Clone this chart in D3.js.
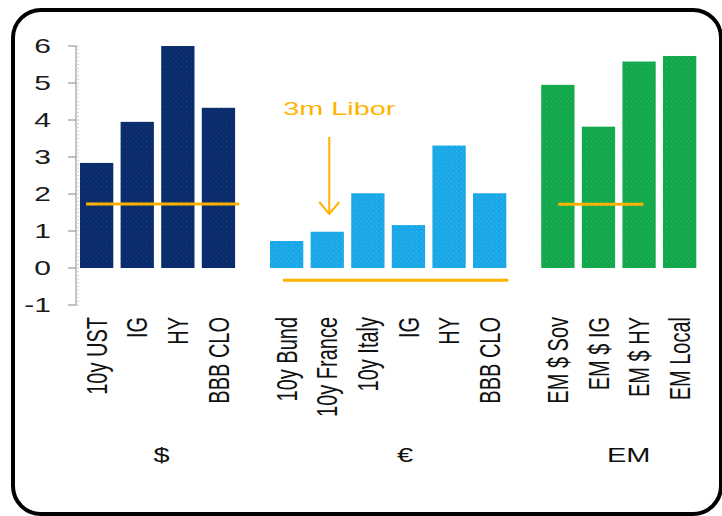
<!DOCTYPE html>
<html lang="en">
<head>
    <meta charset="UTF-8">
    <title>Yields vs 3m Libor</title>
    <script src="https://d3js.org/d3.v7.min.js"></script>
    <style>
        body {
            margin: 0;
            background-color: #ffffff;
        }
        svg {
            display: block;
            font-family: "Liberation Sans", Arial, sans-serif;
        }
    </style>
</head>
<body>
    <svg id="chart" width="722" height="516"></svg>

    <script>
        // data
        const groups = ["$", "€", "EM"];
        const usdCats = ["10y UST", "IG", "HY", "BBB CLO"];
        const usdVals = [2.84, 3.95, 6.0, 4.33];
        const eurCats = ["10y Bund", "10y France", "10y Italy", "IG", "HY", "BBB CLO"];
        const eurVals = [0.73, 0.98, 2.02, 1.16, 3.31, 2.02];
        const emCats = ["EM $ Sov", "EM $ IG", "EM $ HY", "EM Local"];
        const emVals = [4.95, 3.82, 5.58, 5.73];
        const liborVals = [1.73, -0.33, 1.72];
        const yTicks = [-1, 0, 1, 2, 3, 4, 5, 6];

        const colors = ["#0b2c6c", "#1aa7e8", "#12a84b"];
        const dotColors = ["#1d4f86", "#5cc6f2", "#3cc46e"];
        const liborColor = "#ffb300";

        const svg = d3.select("#chart");
        const gap = 0.68;      // extra space between groups, in bar slots
        const barW = 0.82;     // bar width, in bar slots

        // flatten into one list of bars with a slot position
        const bars = [];
        [[usdCats, usdVals], [eurCats, eurVals], [emCats, emVals]].forEach(([cats, vals], g) => {
            cats.forEach((c, i) => {
                bars.push({ cat: c, value: vals[i], group: g, pos: bars.length + g * gap });
            });
        });

        const x = d3.scaleLinear().domain([0, 1]).range([80, 120.6]);
        const y = d3.scaleLinear().domain([-1, 6]).range([305, 46]);

        // frame
        svg.append("rect")
            .attr("x", 13).attr("y", 10)
            .attr("width", 708).attr("height", 504)
            .attr("rx", 28).attr("ry", 28)
            .attr("fill", "none")
            .attr("stroke", "#000")
            .attr("stroke-width", 4);

        // stipple patterns for the bars
        const defs = svg.append("defs");
        colors.forEach((c, i) => {
            const p = defs.append("pattern")
                .attr("id", "dots" + i)
                .attr("width", 5).attr("height", 5)
                .attr("patternUnits", "userSpaceOnUse");
            p.append("rect").attr("width", 5).attr("height", 5).attr("fill", c);
            p.append("rect").attr("x", 1).attr("y", 1).attr("width", 1).attr("height", 1)
                .attr("fill", dotColors[i]).attr("opacity", 0.6);
            p.append("rect").attr("x", 3).attr("y", 3).attr("width", 1).attr("height", 1)
                .attr("fill", dotColors[i]).attr("opacity", 0.4);
        });

        // y axis
        const axis = svg.append("g");
        axis.append("line")
            .attr("x1", 76).attr("x2", 76)
            .attr("y1", y(6)).attr("y2", y(-1))
            .attr("stroke", "#9a9a9a").attr("stroke-width", 1.2);
        axis.selectAll("line.minor")
            .data(d3.range(-1, 6.001, 0.1))
            .enter().append("line")
            .attr("class", "minor")
            .attr("x1", 76).attr("x2", 79)
            .attr("y1", d => y(d)).attr("y2", d => y(d))
            .attr("stroke", "#d0d0d0").attr("stroke-width", 1);
        axis.selectAll("line.major")
            .data(yTicks)
            .enter().append("line")
            .attr("class", "major")
            .attr("x1", 68).attr("x2", 76)
            .attr("y1", d => y(d)).attr("y2", d => y(d))
            .attr("stroke", "#9a9a9a").attr("stroke-width", 1.2);
        axis.selectAll("text")
            .data(yTicks)
            .enter().append("text")
            .attr("transform", d => `translate(51,${y(d)}) scale(1.5,1)`)
            .attr("dy", "0.35em")
            .attr("text-anchor", "end")
            .attr("font-size", 20)
            .attr("fill", "#1a1a1a")
            .text(d => d);

        // bars
        svg.selectAll("rect.bar")
            .data(bars)
            .enter().append("rect")
            .attr("class", "bar")
            .attr("x", d => x(d.pos))
            .attr("width", x(barW) - x(0))
            .attr("y", d => y(Math.max(0, d.value)))
            .attr("height", d => Math.abs(y(d.value) - y(0)))
            .attr("fill", d => "url(#dots" + d.group + ")");

        // 3m Libor lines, one per group
        const spans = [[0.15, 3.92], [5.0, 10.55], [11.78, 13.88]];
        svg.selectAll("line.libor")
            .data(liborVals)
            .enter().append("line")
            .attr("class", "libor")
            .attr("x1", (d, i) => x(spans[i][0]))
            .attr("x2", (d, i) => x(spans[i][1]))
            .attr("y1", d => y(d)).attr("y2", d => y(d))
            .attr("stroke", liborColor)
            .attr("stroke-width", 3);

        // annotation
        const france = bars.find(b => b.cat === "10y France");
        const ax = x(france.pos + barW / 2) + 2;
        svg.append("text")
            .attr("transform", `translate(${ax + 10},115) scale(1.6,1)`)
            .attr("text-anchor", "middle")
            .attr("font-size", 18)
            .attr("fill", liborColor)
            .text("3m Libor");
        svg.append("line")
            .attr("x1", ax).attr("x2", ax)
            .attr("y1", 137).attr("y2", 213)
            .attr("stroke", liborColor).attr("stroke-width", 2);
        svg.append("path")
            .attr("d", `M${ax - 10},202 L${ax},214 L${ax + 10},202`)
            .attr("fill", "none")
            .attr("stroke", liborColor).attr("stroke-width", 2);

        // category labels
        svg.selectAll("text.cat")
            .data(bars)
            .enter().append("text")
            .attr("class", "cat")
            .attr("transform", d => `translate(${x(d.pos + barW / 2)},317) scale(1.45,1) rotate(-90)`)
            .attr("dy", "0.35em")
            .attr("text-anchor", "end")
            .attr("font-size", 20)
            .attr("fill", "#111")
            .text(d => d.cat);

        // group labels
        const shifts = [4, 17, 10];
        groups.forEach((g, i) => {
            const gb = bars.filter(b => b.group === i);
            const cx = (x(gb[0].pos) + x(gb[gb.length - 1].pos + barW)) / 2 + shifts[i];
            svg.append("text")
                .attr("transform", `translate(${cx},455) scale(1.45,1)`)
                .attr("dy", "0.35em")
                .attr("text-anchor", "middle")
                .attr("font-size", 20)
                .attr("fill", "#111")
                .text(g);
        });
    </script>
</body>
</html>
